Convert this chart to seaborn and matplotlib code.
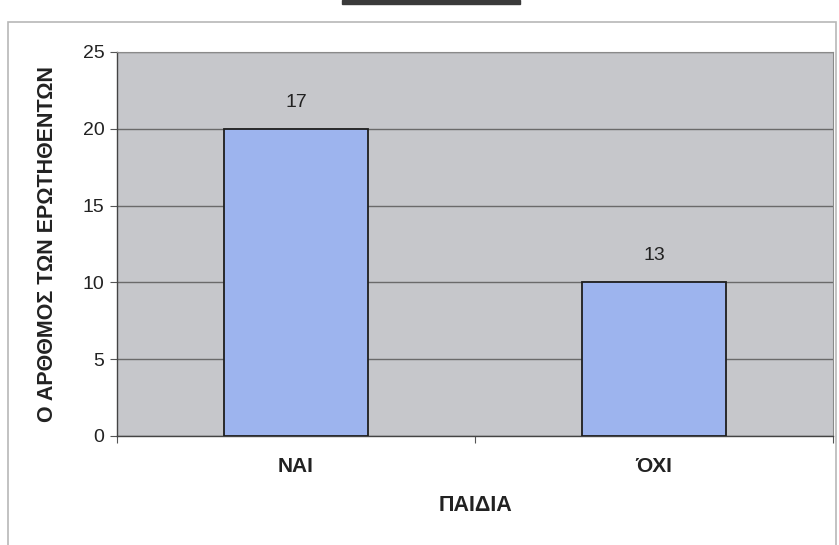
import numpy as np
import pandas as pd
import matplotlib
matplotlib.use("Agg")
import matplotlib.pyplot as plt
import seaborn as sns
from matplotlib.patches import Rectangle
from matplotlib.ticker import FixedLocator

categories = ["ΝΑΙ", "ΌΧΙ"]
bar_heights = [20, 10]
bar_labels = ["17", "13"]
y_ticks = [0, 5, 10, 15, 20, 25]

sns.set_style("white")
plt.rcParams['font.family'] = ['Liberation Sans', 'DejaVu Sans']

df = pd.DataFrame({"cat": categories, "val": bar_heights})

fig = plt.figure(figsize=(8.39, 5.45), dpi=100)
fig.patch.set_facecolor("white")
# outer frame of the pasted chart
fig.patches.append(Rectangle((8 / 839, -10 / 545), 828 / 839, 533 / 545,
                             transform=fig.transFigure, fill=False,
                             edgecolor="#b8b8b8", linewidth=1.2))
fig.patches.append(Rectangle((342 / 839, 541 / 545), 178 / 839, 4 / 545,
                             transform=fig.transFigure, color="#3a3a3a"))

ax = fig.add_axes([117 / 839, 109 / 545, 716 / 839, 384 / 545])
ax.set_facecolor("#c6c7cb")

sns.barplot(data=df, x="cat", y="val", ax=ax, color="#9db4ee", saturation=1,
            width=0.4, edgecolor="#1e1e1e", linewidth=1.3, zorder=3)

ax.set_ylim(0, 25)
ax.set_xlim(-0.5, 1.5)
ax.set_yticks(y_ticks)
ax.yaxis.grid(True, color="#6a6a6a", linewidth=1.0, zorder=0)
ax.set_axisbelow(True)

for i, (h, lab) in enumerate(zip(bar_heights, bar_labels)):
    ax.annotate(lab, (i, h), xytext=(0, 13), textcoords="offset points",
                ha="center", va="bottom", fontsize=14, color="#222222")

ax.tick_params(axis="y", labelsize=14, length=5, width=0.8, color="#555555",
               labelcolor="#222222", pad=4, left=True)
ax.tick_params(axis="x", labelsize=15, length=0, pad=15, labelcolor="#222222")
for t in ax.get_xticklabels():
    t.set_fontweight("bold")
ax.xaxis.set_minor_locator(FixedLocator([-0.5, 0.5, 1.5]))
ax.tick_params(axis="x", which="minor", length=5, width=0.8, color="#555555", bottom=True)

for s in ["left", "bottom"]:
    ax.spines[s].set_color("#444444")
    ax.spines[s].set_linewidth(1.0)
for s in ["top", "right"]:
    ax.spines[s].set_color("#8a8a8a")
    ax.spines[s].set_linewidth(0.8)

ax.set_xlabel("ΠΑΙΔΙΑ", fontsize=15.5, fontweight="bold", color="#222222", labelpad=14)
ax.set_ylabel("Ο ΑΡΘΘΜΟΣ ΤΩΝ ΕΡΩΤΗΘΕΝΤΩΝ", fontsize=15.5, fontweight="bold",
              color="#222222", labelpad=18)

plt.savefig("out.png", dpi=100)
